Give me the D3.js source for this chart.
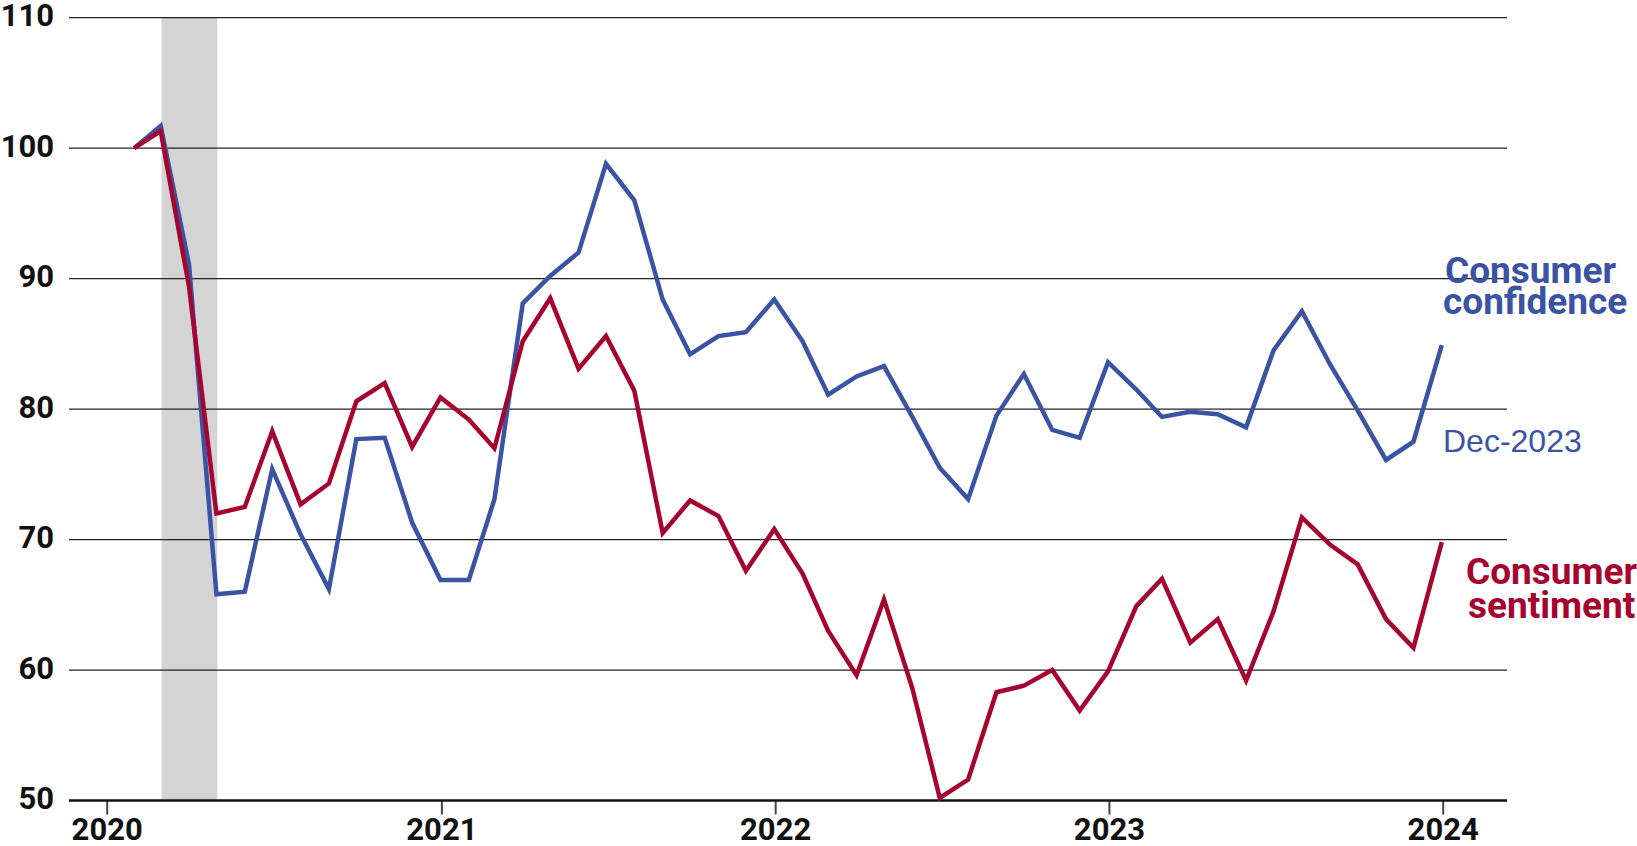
<!DOCTYPE html>
<html>
<head>
<meta charset="utf-8">
<script src="https://cdn.jsdelivr.net/npm/d3@7"></script>
<style>
  body { margin: 0; background: #fff; }
  svg { display: block; font-family: Roboto, "Liberation Sans", sans-serif; }
</style>
</head>
<body>
<div id="chart"></div>
<script>
// monthly index, Jan 2020 = 100
var years = [2020, 2021, 2022, 2023];
var confidence = [
  100, 101.7, 91.1, 65.8, 66.0, 75.4, 70.4, 66.2, 77.7, 77.8, 71.3, 66.9,
  66.9, 73.1, 88.1, 90.2, 92.0, 98.8, 96.0, 88.4, 84.2, 85.6, 85.9, 88.4,
  85.2, 81.1, 82.5, 83.3, 79.4, 75.5, 73.1, 79.5, 82.7, 78.4, 77.8, 83.6,
  81.5, 79.4, 79.8, 79.6, 78.6, 84.5, 87.5, 83.4, 79.9, 76.1, 77.5, 84.9
];
var sentiment = [
  100, 101.3, 89.4, 72.0, 72.5, 78.3, 72.7, 74.3, 80.6, 82.0, 77.1, 80.9,
  79.2, 77.0, 85.2, 88.5, 83.1, 85.6, 81.4, 70.5, 73.0, 71.8, 67.6, 70.8,
  67.4, 63.0, 59.6, 65.4, 58.6, 50.2, 51.6, 58.3, 58.8, 60.0, 56.9, 59.9,
  64.9, 67.0, 62.1, 63.9, 59.2, 64.5, 71.7, 69.6, 68.1, 63.9, 61.7, 69.8
];
var yTicks = [50, 60, 70, 80, 90, 100, 110];
var xTickYears = [2020, 2021, 2022, 2023, 2024];
var recession = [new Date(2020, 2, 1), new Date(2020, 4, 1)];

var blue = "#3a53a3", red = "#a5042f";

// month-end dates
var dates = [];
years.forEach(function(y) {
  for (var m = 0; m < 12; m++) dates.push(new Date(y, m + 1, 0));
});

var width = 1637, height = 846;
var svg = d3.select("#chart").append("svg")
  .attr("width", width)
  .attr("height", height);

var x = d3.scaleTime()
  .domain([new Date(2020, 0, 1), new Date(2024, 0, 1)])
  .range([106.7, 1442.7]);

var y = d3.scaleLinear()
  .domain([50, 110])
  .range([800.5, 17.7]);

var plotLeft = 69, plotRight = 1507;

// recession shading
svg.append("rect")
  .attr("x", x(recession[0]))
  .attr("y", y(110))
  .attr("width", x(recession[1]) - x(recession[0]))
  .attr("height", y(50) - y(110))
  .style("fill", "#d4d4d4");

// gridlines
svg.selectAll(".grid")
  .data(yTicks.filter(d => d > 50))
  .enter().append("line")
  .attr("x1", plotLeft)
  .attr("x2", plotRight)
  .attr("y1", d => y(d))
  .attr("y2", d => y(d))
  .style("stroke", "#222")
  .style("stroke-width", 1.3);

// y labels
svg.selectAll(".ylab")
  .data(yTicks)
  .enter().append("text")
  .attr("x", 54)
  .attr("y", d => y(d) + 8.5)
  .attr("text-anchor", "end")
  .style("font-size", "31px")
  .style("font-weight", "bold")
  .style("fill", "#111")
  .text(d => d);

// x axis
var xAxis = svg.append("g")
  .attr("transform", "translate(0," + y(50) + ")")
  .call(d3.axisBottom(x)
    .tickValues(xTickYears.map(d => new Date(d, 0, 1)))
    .tickSize(14)
    .tickFormat(d3.timeFormat("%Y")));
xAxis.select(".domain").remove();
xAxis.selectAll(".tick line").style("stroke", "#444").style("stroke-width", 2);
xAxis.selectAll(".tick text")
  .attr("y", 17)
  .attr("dy", "0.71em")
  .style("font-family", "Roboto, sans-serif")
  .style("font-size", "31px")
  .style("font-weight", "bold")
  .style("fill", "#111");

svg.append("line")
  .attr("x1", plotLeft)
  .attr("x2", plotRight)
  .attr("y1", y(50))
  .attr("y2", y(50))
  .style("stroke", "#111")
  .style("stroke-width", 2.6);

// series
var line = d3.line()
  .x((d, i) => x(dates[i]))
  .y(d => y(d));

svg.append("path")
  .datum(confidence)
  .attr("d", line)
  .style("fill", "none")
  .style("stroke", blue)
  .style("stroke-width", 4.5)
  .style("stroke-linejoin", "miter");

svg.append("path")
  .datum(sentiment)
  .attr("d", line)
  .style("fill", "none")
  .style("stroke", red)
  .style("stroke-width", 4.5)
  .style("stroke-linejoin", "miter");

// labels
var conf = svg.append("text")
  .attr("x", 1443)
  .attr("y", 282.7)
  .style("font-size", "37px")
  .style("font-weight", "bold")
  .style("fill", blue);
conf.append("tspan").attr("x", 1445).text("Consumer");
conf.append("tspan").attr("x", 1443).attr("dy", 31.3).text("confidence");

svg.append("text")
  .attr("x", 1443)
  .attr("y", 451.7)
  .style("font-family", "'Liberation Sans', Arial, sans-serif")
  .style("font-size", "32px")
  .style("fill", blue)
  .text("Dec-2023");

var sent = svg.append("text")
  .attr("x", 1466)
  .attr("y", 584.3)
  .style("font-size", "37px")
  .style("font-weight", "bold")
  .style("fill", red);
sent.append("tspan").attr("x", 1466).text("Consumer");
sent.append("tspan").attr("x", 1468).attr("dy", 33.4).text("sentiment");
</script>
</body>
</html>
